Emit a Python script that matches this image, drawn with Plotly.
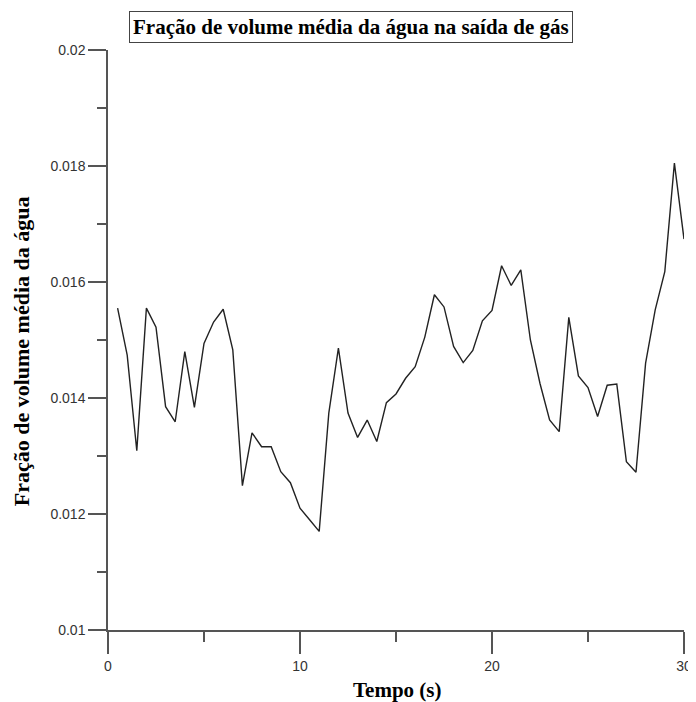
import plotly.graph_objects as go

tempo = [0.5, 1.0, 1.5, 2.0, 2.5, 3.0, 3.5, 4.0, 4.5, 5.0, 5.5, 6.0, 6.5, 7.0, 7.5, 8.0, 8.5, 9.0, 9.5, 10.0,
         10.5, 11.0, 11.5, 12.0, 12.5, 13.0, 13.5, 14.0, 14.5, 15.0, 15.5, 16.0, 16.5, 17.0, 17.5, 18.0, 18.5,
         19.0, 19.5, 20.0, 20.5, 21.0, 21.5, 22.0, 22.5, 23.0, 23.5, 24.0, 24.5, 25.0, 25.5, 26.0, 26.5, 27.0,
         27.5, 28.0, 28.5, 29.0, 29.5, 30.0]
fracao = [0.01555, 0.01474, 0.01309, 0.01555, 0.01522, 0.01385, 0.01359, 0.01480, 0.01384, 0.01494,
          0.01531, 0.01553, 0.01483, 0.01249, 0.01340, 0.01316, 0.01316, 0.01273, 0.01254, 0.01210,
          0.01190, 0.01170, 0.01374, 0.01486, 0.01374, 0.01332, 0.01362, 0.01325, 0.01392, 0.01407,
          0.01434, 0.01454, 0.01505, 0.01578, 0.01557, 0.01489, 0.01461, 0.01482, 0.01533, 0.01551,
          0.01628, 0.01594, 0.01621, 0.01500, 0.01425, 0.01362, 0.01342, 0.01539, 0.01438, 0.01418,
          0.01368, 0.01422, 0.01424, 0.01290, 0.01272, 0.01460, 0.01552, 0.01618, 0.01805, 0.01674]

x_ticks = [0, 10, 20, 30]
x_ticklabels = ["0", "10", "20", "30"]
y_ticks = [0.010, 0.012, 0.014, 0.016, 0.018, 0.020]
y_ticklabels = ["0.01", "0.012", "0.014", "0.016", "0.018", "0.02"]

titulo = "Fração de volume média da água na saída de gás"
titulo_x = "Tempo (s)"
titulo_y = "Fração de volume média da água"

fig = go.Figure()
fig.add_trace(go.Scatter(x=tempo, y=fracao, mode="lines",
                         line=dict(color="#222222", width=1.4), showlegend=False))

axis_color = "#555555"
tick_font = dict(family="Liberation Sans, Arial", size=14, color="#333333")
serif = "Liberation Serif, Times New Roman, serif"

fig.update_xaxes(range=[0, 30], showgrid=False, zeroline=False,
                 showline=True, linecolor=axis_color, linewidth=1.5,
                 ticks="outside", ticklen=22, tickwidth=1.5, tickcolor=axis_color,
                 tickvals=x_ticks, ticktext=x_ticklabels, tickfont=tick_font,
                 minor=dict(ticks="outside", ticklen=10, tickwidth=1.5, tickcolor=axis_color, dtick=5, tick0=0))
fig.update_yaxes(range=[0.010, 0.020], showgrid=False, zeroline=False,
                 showline=True, linecolor=axis_color, linewidth=1.5,
                 ticks="outside", ticklen=18, tickwidth=1.5, tickcolor=axis_color,
                 tickvals=y_ticks, ticktext=y_ticklabels, tickfont=tick_font,
                 minor=dict(ticks="outside", ticklen=9, tickwidth=1.5, tickcolor=axis_color, dtick=0.001, tick0=0.01))

# plot area: 578 x 580 px, placed so the page (body margin 8px) matches the reference
fig.update_layout(
    width=696, height=702,
    margin=dict(l=100, r=18, t=42, b=80),
    paper_bgcolor="white", plot_bgcolor="white",
    annotations=[
        dict(text="<b>" + titulo + "</b>", x=(344 - 100) / 578, y=1 + (42 - 19) / 580,
             xref="paper", yref="paper", showarrow=False,
             font=dict(family=serif, size=21, color="black"),
             bordercolor="#444444", borderwidth=1, borderpad=3, bgcolor="white",
             xanchor="center", yanchor="middle"),
        dict(text="<b>" + titulo_x + "</b>", x=(390 - 100) / 578, y=-(682 - 622) / 580,
             xref="paper", yref="paper", showarrow=False,
             font=dict(family=serif, size=21, color="black"),
             xanchor="center", yanchor="middle"),
        dict(text="<b>" + titulo_y + "</b>", x=(13 - 100) / 578, y=1 - (343 - 42) / 580,
             xref="paper", yref="paper", showarrow=False, textangle=-90,
             font=dict(family=serif, size=22, color="black"),
             xanchor="center", yanchor="middle"),
    ],
)

fig.write_html("out.html")
